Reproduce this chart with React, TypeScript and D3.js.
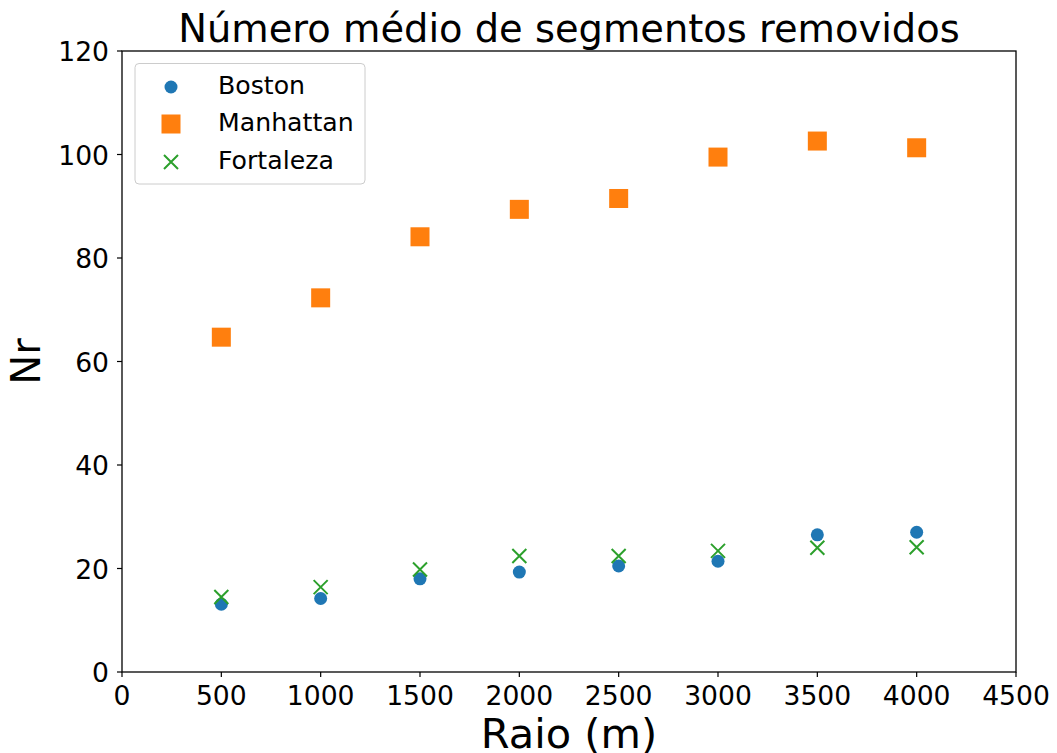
import React from 'react';
import * as d3 from 'd3';

const radii = [500, 1000, 1500, 2000, 2500, 3000, 3500, 4000];
const boston = [13.1, 14.2, 18.0, 19.3, 20.5, 21.4, 26.5, 27.0];
const manhattan = [64.7, 72.3, 84.1, 89.4, 91.5, 99.5, 102.6, 101.3];
const fortaleza = [14.5, 16.4, 19.8, 22.4, 22.4, 23.4, 24.0, 24.1];
const xTicks = [0, 500, 1000, 1500, 2000, 2500, 3000, 3500, 4000, 4500];
const yTicks = [0, 20, 40, 60, 80, 100, 120];

const W = 1057, H = 753;
const margin = { top: 51, right: 41, bottom: 81, left: 122 };
const font = 'DejaVu Sans, sans-serif';

function Circle({ x, y }: { x: number; y: number }) {
  return <circle cx={x} cy={y} r={6.5} fill="#1f77b4" />;
}
function Square({ x, y }: { x: number; y: number }) {
  return <rect x={x - 9.5} y={y - 9.5} width={19} height={19} fill="#ff7f0e" />;
}
function Cross({ x, y }: { x: number; y: number }) {
  const s = 7;
  return (
    <path d={`M${x - s},${y - s}L${x + s},${y + s}M${x - s},${y + s}L${x + s},${y - s}`}
      stroke="#2ca02c" strokeWidth={2} />
  );
}

export default function App() {
  const x = d3.scaleLinear().domain([0, 4500]).range([margin.left, W - margin.right]);
  const y = d3.scaleLinear().domain([0, 120]).range([H - margin.bottom, margin.top]);
  const x0 = x(0), x1 = x(4500), y0 = y(0), y1 = y(120);

  return (
    <svg width={W} height={H} style={{ position: 'absolute', left: 0, top: 0 }} fontFamily={font}>
      <rect width={W} height={H} fill="#fff" />
      <text x={(x0 + x1) / 2} y={42} textAnchor="middle" fontSize={38.4}>Número médio de segmentos removidos</text>

      {radii.map((r, i) => <Square key={'m' + i} x={x(r)} y={y(manhattan[i])} />)}
      {radii.map((r, i) => <Circle key={'b' + i} x={x(r)} y={y(boston[i])} />)}
      {radii.map((r, i) => <Cross key={'f' + i} x={x(r)} y={y(fortaleza[i])} />)}

      <rect x={x0} y={y1} width={x1 - x0} height={y0 - y1} fill="none" stroke="#000" strokeWidth={1.3} />

      {xTicks.map(t => (
        <g key={'xt' + t}>
          <line x1={x(t)} x2={x(t)} y1={y0} y2={y0 + 5} stroke="#000" strokeWidth={1.2} />
          <text x={x(t)} y={y0 + 33} textAnchor="middle" fontSize={26.6}>{t}</text>
        </g>
      ))}
      {yTicks.map(t => (
        <g key={'yt' + t}>
          <line x1={x0 - 5} x2={x0} y1={y(t)} y2={y(t)} stroke="#000" strokeWidth={1.2} />
          <text x={x0 - 13} y={y(t) + 10} textAnchor="end" fontSize={26.6}>{t}</text>
        </g>
      ))}

      <text x={(x0 + x1) / 2} y={748} textAnchor="middle" fontSize={41.5}>Raio (m)</text>
      <text transform={`translate(40,${(y0 + y1) / 2}) rotate(-90)`} textAnchor="middle" fontSize={40}>Nr</text>

      <g>
        <rect x={135} y={63.5} width={230} height={120.5} rx={4} fill="#fff" fillOpacity={0.8} stroke="#ccc" strokeWidth={1} />
        <Circle x={171} y={87} />
        <text x={218} y={94} fontSize={25.2}>Boston</text>
        <Square x={171} y={124} />
        <text x={218} y={131} fontSize={25.2}>Manhattan</text>
        <Cross x={171} y={162} />
        <text x={218} y={169} fontSize={25.2}>Fortaleza</text>
      </g>
    </svg>
  );
}
